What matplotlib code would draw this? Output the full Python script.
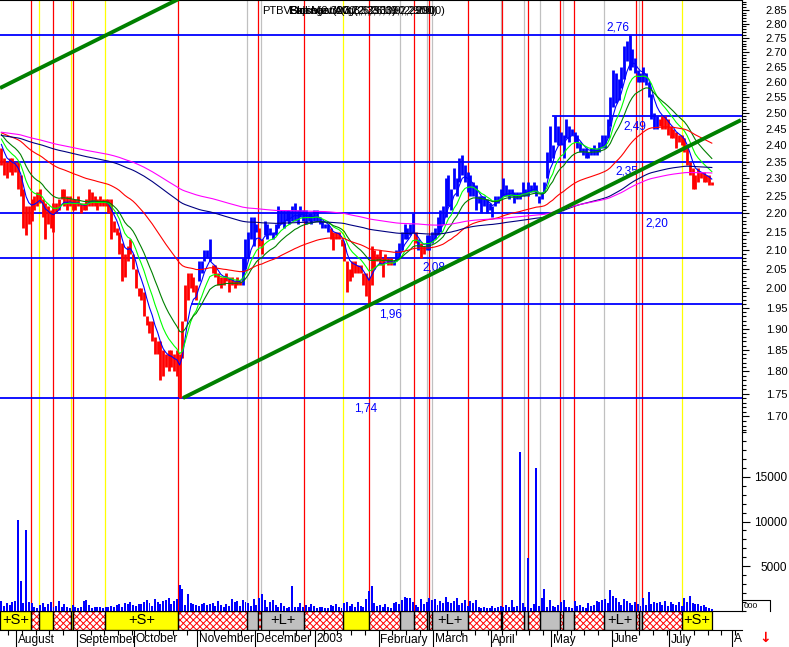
import numpy as np
import pandas as pd
import matplotlib
matplotlib.use("Agg")
import matplotlib.pyplot as plt
from matplotlib.patches import Rectangle
from matplotlib.lines import Line2D
from matplotlib.ticker import FixedLocator, NullFormatter, FuncFormatter
import matplotlib.transforms as mtransforms

plt.rcParams['font.family'] = ['Liberation Sans', 'DejaVu Sans']
plt.rcParams['hatch.linewidth'] = 0.7

# ---------------- data ----------------
lows = [
    2.34, 2.31, 2.30, 2.32, 2.31, 2.32, 2.27, 2.25, 2.16, 2.14,
    2.17, 2.18, 2.21, 2.22, 2.23, 2.19, 2.13, 2.17, 2.16, 2.15,
    2.20, 2.21, 2.24, 2.22, 2.21, 2.22, 2.21, 2.21, 2.22, 2.20,
    2.21, 2.21, 2.22, 2.22, 2.22, 2.21, 2.22, 2.22, 2.22, 2.20,
    2.13, 2.15, 2.14, 2.09, 2.02, 2.03, 2.07, 2.09, 2.05, 2.00,
    1.98, 1.97, 1.93, 1.91, 1.89, 1.87, 1.84, 1.84, 1.78, 1.79,
    1.81, 1.80, 1.81, 1.80, 1.79, 1.74, 1.83, 1.92, 1.97, 2.00,
    1.99, 1.97, 2.02, 2.04, 2.07, 2.08, 2.07, 2.04, 2.03, 2.01,
    2.00, 2.01, 2.02, 1.99, 2.01, 2.00, 2.01, 2.01, 2.01, 2.05,
    2.08, 2.13, 2.11, 2.15, 2.11, 2.09, 2.14, 2.13, 2.14, 2.13,
    2.14, 2.16, 2.17, 2.16, 2.18, 2.17, 2.18, 2.18, 2.17, 2.19,
    2.18, 2.17, 2.18, 2.17, 2.18, 2.18, 2.17, 2.16, 2.16, 2.15,
    2.13, 2.10, 2.13, 2.13, 2.11, 2.07, 1.99, 2.02, 2.03, 2.04,
    2.04, 2.04, 2.01, 1.98, 1.96, 2.01, 2.05, 2.07, 2.06, 2.03,
    2.07, 2.06, 2.06, 2.06, 2.07, 2.08, 2.10, 2.13, 2.13, 2.14,
    2.15, 2.12, 2.10, 2.08, 2.09, 2.10, 2.10, 2.12, 2.13, 2.14,
    2.15, 2.17, 2.19, 2.22, 2.21, 2.27, 2.25, 2.29, 2.31, 2.29,
    2.26, 2.25, 2.25, 2.21, 2.23, 2.20, 2.22, 2.20, 2.21, 2.19,
    2.22, 2.23, 2.24, 2.25, 2.25, 2.24, 2.25, 2.23, 2.24, 2.24,
    2.25, 2.25, 2.25, 2.26, 2.26, 2.25, 2.23, 2.24, 2.26, 2.30,
    2.35, 2.36, 2.41, 2.40, 2.40, 2.36, 2.42, 2.41, 2.43, 2.41,
    2.39, 2.38, 2.37, 2.36, 2.36, 2.37, 2.37, 2.37, 2.38, 2.39,
    2.39, 2.42, 2.46, 2.52, 2.53, 2.54, 2.58, 2.61, 2.67, 2.64,
    2.65, 2.63, 2.60, 2.60, 2.60, 2.59, 2.55, 2.48, 2.45, 2.45,
    2.46, 2.45, 2.45, 2.43, 2.42, 2.42, 2.39, 2.41, 2.40, 2.38,
    2.34, 2.31, 2.27, 2.27, 2.29, 2.30, 2.29, 2.29, 2.28, 2.28,
]
highs = [
    2.39, 2.36, 2.35, 2.36, 2.36, 2.35, 2.35, 2.31, 2.27, 2.22,
    2.22, 2.24, 2.25, 2.26, 2.27, 2.24, 2.23, 2.22, 2.21, 2.23,
    2.23, 2.24, 2.27, 2.27, 2.25, 2.25, 2.24, 2.24, 2.25, 2.23,
    2.23, 2.24, 2.27, 2.26, 2.25, 2.24, 2.25, 2.24, 2.24, 2.24,
    2.24, 2.18, 2.16, 2.15, 2.12, 2.09, 2.11, 2.13, 2.09, 2.05,
    2.00, 2.00, 1.99, 1.93, 1.92, 1.92, 1.88, 1.87, 1.87, 1.85,
    1.84, 1.85, 1.85, 1.84, 1.85, 1.84, 1.92, 2.01, 2.04, 2.04,
    2.03, 2.01, 2.07, 2.07, 2.10, 2.10, 2.13, 2.06, 2.06, 2.04,
    2.03, 2.03, 2.04, 2.03, 2.03, 2.02, 2.03, 2.02, 2.08, 2.13,
    2.15, 2.19, 2.19, 2.17, 2.16, 2.13, 2.18, 2.17, 2.16, 2.15,
    2.17, 2.22, 2.21, 2.21, 2.21, 2.21, 2.22, 2.23, 2.21, 2.22,
    2.21, 2.21, 2.20, 2.20, 2.21, 2.21, 2.19, 2.18, 2.17, 2.17,
    2.16, 2.15, 2.15, 2.15, 2.13, 2.12, 2.07, 2.05, 2.07, 2.07,
    2.06, 2.06, 2.04, 2.04, 2.03, 2.11, 2.10, 2.09, 2.10, 2.08,
    2.09, 2.08, 2.08, 2.07, 2.10, 2.12, 2.15, 2.17, 2.16, 2.17,
    2.20, 2.15, 2.13, 2.12, 2.11, 2.14, 2.14, 2.15, 2.16, 2.19,
    2.21, 2.22, 2.30, 2.31, 2.27, 2.33, 2.30, 2.36, 2.37, 2.34,
    2.32, 2.31, 2.29, 2.28, 2.25, 2.25, 2.25, 2.24, 2.23, 2.22,
    2.25, 2.25, 2.27, 2.30, 2.28, 2.27, 2.27, 2.26, 2.26, 2.26,
    2.29, 2.27, 2.29, 2.28, 2.29, 2.28, 2.25, 2.26, 2.29, 2.38,
    2.46, 2.40, 2.49, 2.46, 2.44, 2.43, 2.48, 2.46, 2.45, 2.44,
    2.43, 2.41, 2.39, 2.39, 2.38, 2.39, 2.40, 2.39, 2.41, 2.43,
    2.43, 2.48, 2.55, 2.64, 2.63, 2.61, 2.65, 2.72, 2.74, 2.76,
    2.71, 2.68, 2.64, 2.63, 2.65, 2.63, 2.60, 2.56, 2.50, 2.49,
    2.48, 2.49, 2.49, 2.48, 2.46, 2.45, 2.44, 2.43, 2.43, 2.42,
    2.39, 2.35, 2.33, 2.31, 2.33, 2.32, 2.32, 2.31, 2.31, 2.29,
]
volume = [
    1100, 600, 900, 700, 1000, 1100, 10200, 3300, 900, 9100,
    1000, 900, 500, 300, 700, 900, 500, 800, 1000, 400,
    600, 1100, 500, 800, 400, 300, 700, 400, 300, 500,
    1100, 1200, 700, 300, 500, 400, 400, 300, 400, 400,
    600, 500, 700, 800, 500, 900, 800, 1000, 700, 600,
    800, 800, 1000, 1200, 900, 600, 1300, 1000, 800, 1100,
    1200, 1500, 800, 1100, 1300, 2900, 2500, 700, 1900, 900,
    800, 700, 600, 800, 900, 700, 800, 900, 600, 1100,
    700, 500, 800, 600, 1300, 1000, 1100, 600, 1200, 1000,
    900, 600, 1300, 700, 1500, 1900, 1200, 500, 1000, 1200,
    700, 500, 900, 600, 300, 500, 2800, 500, 400, 900,
    500, 700, 400, 800, 600, 300, 500, 400, 300, 300,
    700, 600, 800, 400, 300, 900, 1000, 600, 800, 500,
    1000, 600, 400, 1300, 2200, 2800, 900, 600, 700, 400,
    800, 400, 300, 900, 1000, 800, 1200, 1600, 1500, 1400,
    1000, 700, 400, 1300, 800, 1000, 1500, 1200, 1300, 700,
    1100, 900, 1600, 1000, 900, 1100, 1500, 700, 900, 1200,
    600, 1100, 900, 1200, 500, 300, 400, 300, 300, 600,
    300, 500, 600, 400, 700, 400, 1200, 500, 600, 17800,
    900, 400, 5900, 300, 800, 16000, 600, 1400, 2500, 500,
    1200, 600, 400, 700, 1000, 1200, 500, 400, 300, 1100,
    600, 700, 400, 300, 900, 600, 700, 1100, 1000, 1200,
    1300, 900, 2400, 1700, 1400, 1000, 700, 1300, 1100, 900,
    700, 1000, 800, 600, 1400, 700, 2150, 800, 1000, 900,
    1000, 700, 1100, 600, 1000, 800, 700, 1000, 600, 1500,
    1000, 1700, 900, 800, 800, 600, 700, 400, 300, 200,
]
# bar colour runs: (first bar index, colour)
color_runs = [(0, '#ff0000'), (72, '#0000ff'), (77, '#ff0000'), (88, '#0000ff'),
              (94, '#ff0000'), (96, '#0000ff'), (120, '#ff0000'), (143, '#0000ff'),
              (151, '#ff0000'), (152, '#0000ff'), (153, '#ff0000'), (155, '#0000ff'),
              (240, '#ff0000')]

# exponential averages: (period, starting value, colour)
averages = [(5, 2.42, '#0000ff'), (10, 2.43, '#00ff00'), (18, 2.44, '#008000'),
            (55, 2.44, '#ff0000'), (150, 2.43, '#000080'), (190, 2.44, '#ff00ff')]

# support / resistance lines
levels = [2.76, 2.49, 2.35, 2.20, 2.08, 1.96, 1.74]
level_start = [0, 201.6, 0, 0, 0, 70.0, 0]
level_labels = ['2,76', '2,49', '2,35', '2,20', '2,08', '1,96', '1,74']
level_label_x = [225.3, 231.5, 228.6, 239.5, 158.2, 142.2, 133.4]
level_label_above = [True, False, False, False, False, False, False]

# trend channel (day position, price)
trend_low = ([66.7, 270.1], [1.74, 2.477])
trend_high = ([0.0, 66.7], [2.58, 2.897])

# signal strip: segment start (day position) and kind
signal_starts = [0, 11.4, 14.3, 19.4, 26.0, 26.7, 38.4, 65.0, 90.2, 94.2, 95.3,
                 110.9, 125.2, 134.6, 145.8, 151.0, 155.6, 156.5, 157.6, 170.7,
                 182.5, 183.1, 190.9, 192.6, 197.0, 204.0, 205.1, 209.4, 220.1,
                 232.0, 233.1, 234.2, 248.7]
signal_kinds = ['S', 'x', 'S', 'x', 'S', 'x', 'S', 'x', 'L', 'x', 'L',
                'x', 'S', 'x', 'L', 'x', 'L', 'x', 'L', 'x',
                'L', 'x', 'L', 'x', 'L', 'x', 'L', 'x', 'L',
                'x', 'L', 'x', 'S']
signal_end = 259.4

month_labels = ['August', 'September', 'October', 'November', 'December', '2003',
                'February', 'March', 'April', 'May', 'June', 'July', 'A']

header_titles = ['Close(2.3000,2.2900)', 'Bollinger(20,2,3,2.3100,2.2900)',
                 'Stochastic(3,3,6,3,1,9,2,2900)', 'Exp Mov Avg(2,3,6,3,9,2,900)']

days = pd.bdate_range('2002-07-24', periods=len(lows))
axis_days = pd.bdate_range('2002-07-24', '2003-08-15')

# ---------------- figure ----------------
W, H = 789, 647
fig = plt.figure(figsize=(W / 100, H / 100), dpi=100)


def box(x0, y0, x1, y1):
    return [x0 / W, 1 - y1 / H, (x1 - x0) / W, (y1 - y0) / H]


ax = fig.add_axes(box(0, 0, 741.5, 432))
axv = fig.add_axes(box(0, 432, 741.5, 611))
axs = fig.add_axes(box(0, 611, 741.5, 630))
XMAX = 741.5 / 2.743
for a in (ax, axv, axs):
    a.set_xlim(0, XMAX)
    a.set_facecolor('none')

x = np.arange(len(lows)) + 0.5
lo = np.array(lows)
hi = np.array(highs)

# signal vertical lines
line_col = {'x': '#ff0000', 'S': '#ffff00', 'L': '#c0c0c0'}
for s, k in zip(signal_starts[1:], signal_kinds[1:]):
    for a in (ax, axv):
        a.axvline(s, color=line_col[k], lw=0.9, zorder=1)

# price panel
ax.set_yscale('log')
ax.set_ylim(1.6665, 2.8855)
for lv, st, lab, lx, above in zip(levels, level_start, level_labels,
                                  level_label_x, level_label_above):
    ax.plot([st, XMAX], [lv, lv], color='#0000ff', lw=1.3, zorder=2)
    ax.annotate(lab, (lx, lv), xytext=(0, 1 if above else -3),
                textcoords='offset points', ha='center',
                va='bottom' if above else 'top', color='#0000ff', fontsize=8.5)

cols = []
run_i = 0
for i in range(len(lows)):
    while run_i + 1 < len(color_runs) and i >= color_runs[run_i + 1][0]:
        run_i += 1
    cols.append(color_runs[run_i][1])
ax.vlines(x, lo, hi, colors=cols, lw=2.0, zorder=3)

mid = (lo + hi) / 2
for period, seed, c in averages:
    alpha = 2.0 / (period + 1)
    vals = []
    prev = seed
    for v in mid:
        prev = prev + alpha * (v - prev)
        vals.append(prev)
    ax.plot(x, vals, color=c, lw=0.8, zorder=4)

ax.plot(*trend_low, color='#008000', lw=2.8, zorder=5, solid_capstyle='butt')
ax.plot(*trend_high, color='#008000', lw=2.8, zorder=5, solid_capstyle='butt')

ax.yaxis.tick_right()
ax.yaxis.set_major_locator(FixedLocator(np.round(np.arange(1.70, 2.851, 0.05), 2)))
ax.yaxis.set_minor_locator(FixedLocator(np.round(np.arange(1.67, 2.881, 0.01), 2)))
ax.yaxis.set_major_formatter(FuncFormatter(lambda v, p: f'{v:.2f}'))
ax.yaxis.set_minor_formatter(NullFormatter())
ax.tick_params(axis='y', which='major', length=5, width=0.8, labelsize=8, pad=28)
ax.tick_params(axis='y', which='minor', length=3, width=0.8)
ax.tick_params(axis='x', which='both', bottom=False, labelbottom=False)
ax.spines['left'].set_visible(False)
ax.spines['bottom'].set_visible(False)
for t in ax.yaxis.get_major_ticks():
    t.label2.set_horizontalalignment('right')

# volume panel
axv.bar(x, volume, width=0.72, color='#0000ff', lw=0, zorder=3)
axv.set_ylim(0, 20000)
axv.yaxis.tick_right()
axv.yaxis.set_major_locator(FixedLocator([5000, 10000, 15000]))
axv.yaxis.set_minor_locator(FixedLocator(np.arange(0, 20001, 1000)))
axv.yaxis.set_major_formatter(FuncFormatter(lambda v, p: f'{int(v)}'))
axv.tick_params(axis='y', which='major', length=6, width=0.8, labelsize=8.5, pad=27)
axv.tick_params(axis='y', which='minor', length=3, width=0.8)
axv.tick_params(axis='x', which='both', bottom=False, labelbottom=False)
for sp in ('left', 'top', 'bottom'):
    axv.spines[sp].set_visible(False)
for t in axv.yaxis.get_major_ticks():
    t.label2.set_horizontalalignment('right')

# signal strip
axs.set_ylim(0, 1)
ends = signal_starts[1:] + [signal_end]
fills = {'S': '#ffff00', 'L': '#c0c0c0'}
for s, e, k in zip(signal_starts, ends, signal_kinds):
    if k == 'x':
        axs.add_patch(Rectangle((s, 0), e - s, 1, facecolor='white',
                                edgecolor='#ff0000', hatch='xxxxx', lw=0, zorder=1))
    else:
        axs.add_patch(Rectangle((s, 0), e - s, 1, facecolor=fills[k], lw=0, zorder=1))
        if e - s >= 10:
            axs.text((s + e) / 2, 0.5, '+%s+' % k, ha='center', va='center',
                     fontsize=10.5, zorder=3)
    axs.add_patch(Rectangle((s, 0), e - s, 1, fill=False, edgecolor='black',
                            lw=0.9, zorder=2))
for sp in ('left', 'right'):
    axs.spines[sp].set_visible(False)

month_pos = [i for i in range(1, len(axis_days))
             if axis_days[i].month != axis_days[i - 1].month]
week_pos = [i for i in range(len(axis_days)) if axis_days[i].weekday() == 0]
axs.set_yticks([])
axs.xaxis.set_major_locator(FixedLocator(month_pos))
axs.xaxis.set_minor_locator(FixedLocator(week_pos))
axs.xaxis.set_major_formatter(NullFormatter())
axs.tick_params(axis='x', which='major', length=12.5, width=0.8)
axs.tick_params(axis='x', which='minor', length=3.5, width=0.8)
trans = mtransforms.blended_transform_factory(axs.transData, axs.transAxes)
for p, lab in zip(month_pos, month_labels):
    axs.text(p + 0.5, -0.5, lab, transform=trans, ha='left', va='center',
             fontsize=8.6, clip_on=False)

# chart header (indicator titles printed over each other, as in the source)
fig.text(262 / W, 1 - 11 / H, 'PTBV', fontsize=8, va='center')
for s in header_titles:
    fig.text(289 / W, 1 - 11 / H, s, fontsize=8, va='center')

# small scale box and scroll arrow at the bottom right
fig.add_artist(Line2D([742 / W, 770 / W, 770 / W], [1 - 600 / H, 1 - 600 / H, 1 - 611 / H],
                      color='black', lw=0.8))
fig.text(744 / W, 1 - 606 / H, '000', fontsize=6, va='center')
fig.text(765 / W, 1 - 638 / H, '\u2193', color='#ff0000', fontsize=10,
         fontweight='bold', ha='center', va='center', family='DejaVu Sans')

fig.savefig('out.png', dpi=100)
